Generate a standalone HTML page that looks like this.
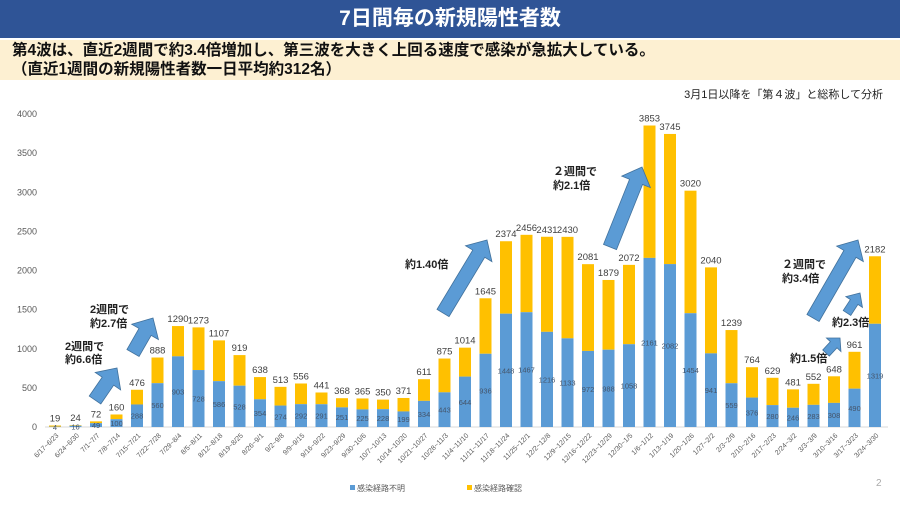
<!DOCTYPE html>
<html><head><meta charset="utf-8"><style>
body{margin:0;width:900px;height:506px;overflow:hidden;background:#fff;font-family:"Liberation Sans","Noto Sans CJK JP",sans-serif;}
#top{position:absolute;left:0;top:0;width:900px;height:38px;background:#2f5496;color:#fff;font-size:21px;font-weight:bold;text-align:center;line-height:38px;}
#sub{position:absolute;left:0;top:40px;width:900px;height:40px;background:#fdf0d2;font-size:15.5px;font-weight:bold;color:#111;line-height:19px;padding-left:12px;box-sizing:border-box;padding-top:1px;}
#note{position:absolute;right:17px;top:86px;font-size:11px;color:#222;}
svg{position:absolute;left:0;top:0;}
</style></head><body>
<div id="top">7日間毎の新規陽性者数</div>
<div id="sub">第4波は、直近2週間で約3.4倍増加し、第三波を大きく上回る速度で感染が急拡大している。<br>（直近1週間の新規陽性者数一日平均約312名）</div>
<div id="note">3月1日以降を「第４波」と総称して分析</div>
<svg id="s" width="900" height="506" xmlns="http://www.w3.org/2000/svg"></svg>
<script>
const d=[["6/17~6/23",19,4],["6/24~6/30",24,16],["7/1~7/7",72,49],["7/8~7/14",160,100],["7/15~7/21",476,288],["7/22~7/28",888,560],["7/29~8/4",1290,903],["8/5~8/11",1273,728],["8/12~8/18",1107,586],["8/19~8/25",919,528],["8/26~9/1",638,354],["9/2~9/8",513,274],["9/9~9/15",556,292],["9/16~9/22",441,291],["9/23~9/29",368,251],["9/30~10/6",365,225],["10/7~10/13",350,228],["10/14~10/20",371,199],["10/21~10/27",611,334],["10/28~11/3",875,443],["11/4~11/10",1014,644],["11/11~11/17",1645,936],["11/18~11/24",2374,1448],["11/25~12/1",2456,1467],["12/2~12/8",2431,1216],["12/9~12/15",2430,1133],["12/16~12/22",2081,972],["12/23~12/29",1879,988],["12/30~1/5",2072,1058],["1/6~1/12",3853,2161],["1/13~1/19",3745,2082],["1/20~1/26",3020,1454],["1/27~2/2",2040,941],["2/3~2/9",1239,559],["2/10~2/16",764,376],["2/17~2/23",629,280],["2/24~3/2",481,246],["3/3~3/9",552,283],["3/10~3/16",648,308],["3/17~3/23",961,490],["3/24~3/30",2182,1319]];
const y0=427,k=313/4000;let h='';
for(let v=0;v<=4000;v+=500){const y=y0-v*k;h+=`<text x="37" y="${y+3}" font-size="9" fill="#595959" text-anchor="end">${v}</text>`;}
h+=`<line x1="45" y1="${y0}" x2="888" y2="${y0}" stroke="#d9d9d9"/>`;
d.forEach((r,i)=>{const cx=55+i*20.5,w=12;const yt=y0-r[1]*k,yb=y0-r[2]*k;
h+=`<rect x="${cx-w/2}" y="${yt}" width="${w}" height="${yb-yt}" fill="#ffc000"/><rect x="${cx-w/2}" y="${yb}" width="${w}" height="${y0-yb}" fill="#5b9bd5"/>`;
h+=`<text x="${cx}" y="${yt-4}" font-size="9.5" fill="#404040" text-anchor="middle">${r[1]}</text>`;
h+=`<text x="${cx}" y="${(yb+y0)/2+3}" font-size="7.5" fill="#44546a" text-anchor="middle">${r[2]}</text>`;
h+=`<text transform="translate(${cx+4},${y0+9}) rotate(-45)" font-size="7" fill="#595959" text-anchor="end">${r[0]}</text>`;});
function ar(x1,y1,x2,y2,t){const dx=x2-x1,dy=y2-y1,L=Math.hypot(dx,dy),ux=dx/L,uy=dy/L,nx=-uy,ny=ux,hl=Math.min(16,L*0.45),hw=t*1.1;
const bx=x2-ux*hl,by=y2-uy*hl;const p=[[x1+nx*t/2,y1+ny*t/2],[bx+nx*t/2,by+ny*t/2],[bx+nx*hw,by+ny*hw],[x2,y2],[bx-nx*hw,by-ny*hw],[bx-nx*t/2,by-ny*t/2],[x1-nx*t/2,y1-ny*t/2]];
h+=`<polygon points="${p.map(q=>q.join(',')).join(' ')}" fill="#5b9bd5" stroke="#41719c" stroke-width="0.8"/>`;}
ar(95,400,117,368,14);ar(133,353,153,318,14);ar(443,313,487,240,14);ar(610,247,642,167,14);ar(813,318,858,240,14);ar(847,313,860,293,9);ar(826,353,840,338,9);
function tx(x,y,s){h+=`<text x="${x}" y="${y}" font-size="11" fill="#222" font-weight="bold">${s}</text>`;}
tx(65,350,"2週間で");tx(65,363,"約6.6倍");tx(90,313,"2週間で");tx(90,327,"約2.7倍");tx(405,268,"約1.40倍");tx(553,175,"２週間で");tx(553,189,"約2.1倍");tx(782,268,"２週間で");tx(782,282,"約3.4倍");tx(832,326,"約2.3倍");tx(790,362,"約1.5倍");
h+=`<rect x="350" y="485" width="5" height="5" fill="#5b9bd5"/><text x="357" y="491" font-size="8" fill="#595959">感染経路不明</text>`;
h+=`<rect x="467" y="485" width="5" height="5" fill="#ffc000"/><text x="474" y="491" font-size="8" fill="#595959">感染経路確認</text>`;
h+=`<text x="876" y="486" font-size="10" fill="#aaa">2</text>`;
document.getElementById('s').innerHTML=h;
</script>
</body></html>
